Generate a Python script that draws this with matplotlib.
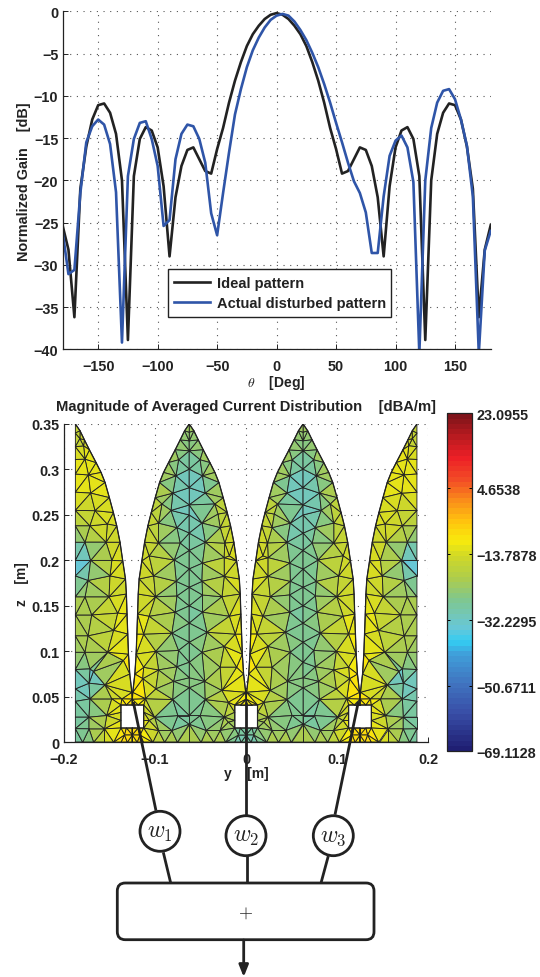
import matplotlib
matplotlib.use('Agg')
import matplotlib.pyplot as plt
import matplotlib.tri as mtri
import numpy as np
from matplotlib.colors import LinearSegmentedColormap
from matplotlib.patches import Circle, FancyBboxPatch
from matplotlib.path import Path

plt.rcParams['font.family'] = ['Liberation Sans', 'DejaVu Sans']
plt.rcParams['font.weight'] = 'bold'
plt.rcParams['axes.labelweight'] = 'bold'
plt.rcParams['mathtext.fontset'] = 'cm'

W, H = 540, 978

# gain patterns, one value every 5 degrees
theta = list(range(-180, 185, 5))
ideal = [-25.3, -28.2, -36.2, -21, -16, -12.8, -11.1, -10.9, -12, -14.5, -20, -38.9, -19.5, -15.1, -13.7,
         -14.1, -16.1, -20.7, -29, -22, -18.3, -16.4, -16.1, -17.5, -18.9, -19.2, -16.3, -13.8, -10.8, -8.2,
         -6, -4.1, -2.7, -1.7, -0.9, -0.4, -0.2, -0.4, -0.9, -1.7, -2.7, -4.1, -6, -8.2, -10.8, -13.8,
         -16.3, -19.2, -18.9, -17.5, -16.1, -16.4, -18.3, -22, -29, -20.7, -16.1, -14.1, -13.7, -15.1, -19.5,
         -38.9, -20, -14.5, -12, -10.9, -11.1, -12.8, -16, -21, -36.2, -28.2, -25.3]
disturbed = [-26, -31.1, -30.6, -21.5, -15.5, -13.6, -12.8, -13.4, -15.7, -21.4, -39.2, -19.5, -15.1, -13.2, -13,
             -15.1, -18.3, -25.4, -24.7, -17.5, -14.5, -13.4, -13.6, -15.1, -17.9, -23.9, -26.5, -21.5, -16.7,
             -12.2, -9.2, -6.6, -4.6, -3.1, -1.9, -1.0, -0.5, -0.3, -0.5, -1.2, -2.2, -3.4, -4.9, -6.6, -8.6,
             -10.8, -13.2, -15.5, -17.9, -20.1, -21.5, -23.8, -28.6, -28.6, -21.9, -17.1, -15.3, -14.7, -16.1,
             -20.2, -40.5, -20, -13.8, -10.8, -9.4, -9.2, -10.4, -12.8, -15.9, -21.9, -40.5, -28.3, -26]

# lobe outline in mm, half width against height
edge_z = [350, 342.5, 332.6, 321.6, 307.6, 296.7, 285.7, 269, 252.7, 238, 220, 199.5, 179.6, 163, 141,
          119, 97, 75, 55, 47.5, 41]
edge_w = [0, 5.1, 9.9, 15.4, 22.7, 28.2, 32.6, 37.3, 41.7, 45.4, 49, 52, 55, 56, 56.7, 57.5, 58.3,
          59.7, 62, 62.5, 62.5]
inner_edge_val = [-24, -24, -24, -23, -22, -20, -20, -19, -18, -17, -16, -16, -15, -15, -14, -12,
                  -12, -11, -10, -11, -12]
outer_edge_val = [-18, -17, -16, -14, -14, -14, -14, -15, -15, -16, -16, -15, -15, -14, -13, -12,
                  -11, -10, -10, -11, -12]

# mesh nodes of the inner lobe: offset from lobe centre [mm], height [mm], level [dBA/m]
inner_nodes = [
    (0, 341, -25), (0, 331.5, -26), (0, 320.5, -29), (0, 300.4, -33), (0, 280, -33), (0, 261, -33), (0, 250, -32),
    (0, 230, -31), (0, 211, -30), (0, 190.6, -29), (0, 170.5, -29), (0, 150, -30), (0, 131, -29), (0, 110, -28),
    (0, 88, -28), (0, 71, -27), (0, 60, -27), (0, 29.4, -29), (0, 20, -27),
    (-11.7, 310.6, -27), (12, 310.6, -27), (-14.6, 293, -30), (14.6, 293, -30), (-18, 274, -30), (17.6, 274, -32),
    (-20, 255, -30), (31.5, 251, -20), (-33.7, 241, -20), (-13.5, 236, -30), (14, 241, -31), (34, 236, -19),
    (-33.7, 219, -21), (-10, 219, -29), (17.6, 220, -29), (39, 219, -17), (-16.5, 200.5, -27), (14.6, 197, -27),
    (38.4, 203, -16), (-39, 183, -17), (-14.3, 177, -27), (14, 177, -26), (38.4, 182.5, -17),
    (-30, 262, -21), (28, 262, -22), (-44, 205, -16), (44, 205, -15),
    (-37, 160, -20), (-13.5, 161, -27), (14.6, 162, -27), (36, 160, -20), (-44, 138.5, -16), (-15.4, 143, -26),
    (14.6, 143, -28), (44, 138.5, -17), (-19, 120, -26), (19.4, 121, -26), (-50, 119, -13), (50.5, 119, -13),
    (-36.6, 100, -22), (-11.7, 101, -28), (14, 99, -26), (38.4, 105.5, -20), (-13.5, 83, -27), (34, 82.5, -21),
    (-33.7, 79.6, -21), (-50, 82.5, -12), (52, 82.5, -11), (-17, 67, -25), (17, 67, -25), (-51, 70, -11),
    (-36.6, 58.7, -20), (36, 57, -20), (-18, 47, -26), (17.6, 47, -26), (-48, 48, -13), (43, 44, -16),
    (-38, 27.6, -23), (-12.4, 29.4, -34), (12, 29.4, -28), (38.4, 27.6, -24), (-19, 13, -28), (18.7, 13, -27),
    (-33.7, 13, -22), (34, 13, -24), (-44, 24, -17), (43, 22, -20),
    (-57, 0, -10), (-50, 0, -10), (-40, 0, -15), (-27, 0, -20), (-13, 0, -20), (0, 0, -20), (13, 0, -20),
    (27, 0, -20), (40, 0, -22), (50, 0, -30), (57, 0, -32),
    (-54, 8, -10), (54, 8, -30), (-62.5, 0, -11), (62.5, 0, -28), (-62.5, 8, -10), (62.5, 8, -29),
    (-62.5, 15.7, -10), (-56, 15.7, -10), (-50, 15.7, -11), (-50, 24, -15), (-50, 33, -14), (-50, 41, -12),
    (-56, 41, -11), (62.5, 15.7, -30), (56, 15.7, -30), (50, 15.7, -28), (50, 24, -23), (50, 33, -20), (50, 41, -15),
    (56, 41, -12),
]

# mesh nodes of the outer half lobe: distance from the straight edge [mm], height [mm], level [dBA/m]
outer_nodes = [
    (0, 340, -20), (0, 325, -18), (0, 311, -15), (0, 295, -14), (0, 275, -15), (0, 255, -18), (0, 238, -22),
    (0, 220, -28), (0, 200, -40), (0, 183, -33), (0, 160, -23), (0, 140, -21), (0, 117, -22), (0, 99, -24),
    (0, 80, -26), (0, 58.7, -33), (0, 45, -31), (0, 27.6, -31), (0, 15, -30), (0, 0, -31),
    (5, 334, -18), (9, 326, -16), (10.6, 311.4, -13), (14.3, 294, -13), (16.8, 274, -14), (21.6, 254.7, -17),
    (16, 238, -19), (35, 240, -14), (33.7, 220, -18), (10.6, 220, -25), (16.8, 200, -33), (40, 200, -15),
    (14, 178, -28), (38, 183, -16), (10.6, 160, -24), (37, 160, -19), (18, 140, -23), (46.5, 142, -13),
    (14, 117, -22), (42, 123, -16), (35.5, 99, -19), (10.6, 99, -24), (16, 80.7, -28), (52.7, 90, -11),
    (19.8, 78, -38), (15, 65, -36), (32.6, 63, -24), (16, 47.7, -30), (40, 47.7, -14), (51, 47.7, -11),
    (15, 27.6, -28), (34.4, 29.4, -21), (32, 14.8, -17), (15, 14.8, -26),
    (8, 0, -28), (20, 0, -24), (32, 0, -17), (42, 0, -12), (50, 0, -10), (57, 0, -10), (62.5, 0, -11),
    (54, 8, -10), (62.5, 8, -10), (62.5, 15.7, -10), (56, 15.7, -10), (50, 15.7, -11), (50, 24, -12),
    (50, 33, -11), (50, 41, -11), (56, 41, -11),
]

# the labelled ticks of the colour bar do not sit where their values would put them
cbar_ticks = [23.0955, 2.7, -15.3, -33.3, -51.3, -69.1128]
cbar_labels = ['23.0955', '4.6538', '\u221213.7878', '\u221232.2295', '\u221250.6711', '\u221269.1128']
cmap_stops = [(0, '#1f1f73'), (0.105, '#384da6'), (0.194, '#4073bf'), (0.283, '#409ed9'), (0.322, '#33ccf2'),
              (0.362, '#66c7d9'), (0.40, '#73c7b8'), (0.45, '#80c78c'), (0.51, '#adcc4d'), (0.58, '#d1d926'),
              (0.623, '#f7eb0d'), (0.678, '#ffc70d'), (0.747, '#fa8c1a'), (0.806, '#f24d26'), (0.875, '#ed1f26'),
              (0.944, '#b31a1f'), (1, '#80141a')]
jetish = LinearSegmentedColormap.from_list('jetish', cmap_stops, N=64)
VMIN, VMAX = -69.1128, 23.0955
TICK_SIZE = 10.4
LABEL_SIZE = 10


def px_axes(fig, x0, y0, x1, y1):
    # y counted from the top of the picture
    return fig.add_axes([x0 / W, 1 - y1 / H, (x1 - x0) / W, (y1 - y0) / H])


def style_axes(ax):
    ax.spines['top'].set_visible(False)
    ax.spines['right'].set_visible(False)
    for s in ['left', 'bottom']:
        ax.spines[s].set_color('#222222')
        ax.spines[s].set_linewidth(0.9)
    ax.grid(True, linestyle=(0, (1, 5)), color='#555555', linewidth=0.8)
    ax.set_axisbelow(True)
    ax.tick_params(direction='in', length=3.5, width=0.7, color='#222222', labelcolor='#222222',
                   labelsize=TICK_SIZE, pad=3)
    ax.tick_params(axis='x', pad=7)


def draw_lobe(ax, centre, sign, half, nodes, edge_val):
    # half=True only uses the notch side of the outline
    off, zed, val = [], [], []
    for w, z, v in zip(edge_w, edge_z, edge_val):
        off.append(w)
        zed.append(z)
        val.append(v)
        if not half and w > 0:
            off.append(-w)
            zed.append(z)
            val.append(v)
    for o, z, v in nodes:
        off.append(o)
        zed.append(z)
        val.append(v)
    off = np.array(off, dtype=float)
    zed = np.array(zed, dtype=float)

    right = [(w, z) for w, z in zip(edge_w, edge_z)]
    slot_r = [(50, 41), (50, 15.7), (62.5, 15.7), (62.5, 0)]
    if half:
        outline = right + slot_r + [(0, 0)]
    else:
        left = [(-w, z) for w, z in zip(edge_w, edge_z)]
        slot_l = [(-62.5, 0), (-62.5, 15.7), (-50, 15.7), (-50, 41)]
        outline = right + slot_r + slot_l + left[::-1]
    outline = np.array(outline)

    tri = mtri.Triangulation((centre + sign * off) / 1000, zed / 1000)
    shape = Path(np.column_stack([(centre + sign * outline[:, 0]) / 1000, outline[:, 1] / 1000]))
    cx = tri.x[tri.triangles].mean(axis=1)
    cy = tri.y[tri.triangles].mean(axis=1)
    tri.set_mask(~shape.contains_points(np.column_stack([cx, cy])))
    pc = ax.tripcolor(tri, np.array(val, dtype=float), cmap=jetish, vmin=VMIN, vmax=VMAX, shading='flat',
                      edgecolors='#222222', linewidth=0.65)
    ax.plot((centre + sign * outline[:, 0]) / 1000, outline[:, 1] / 1000, color='#222222', lw=0.9)
    return pc


fig = plt.figure(figsize=(W / 100, H / 100), dpi=100)

# gain plot
ax1 = px_axes(fig, 62.5, 12.4, 490.7, 350.3)
ax1.plot(theta, ideal, color='#222222', lw=1.9, label='Ideal pattern')
ax1.plot(theta, disturbed, color='#2f55a8', lw=1.9, label='Actual disturbed pattern')
ax1.set_xlim(-180, 180)
ax1.set_ylim(-40, 0)
ax1.set_xticks([-150, -100, -50, 0, 50, 100, 150])
ax1.set_yticks([0, -5, -10, -15, -20, -25, -30, -35, -40])
style_axes(ax1)
ax1.set_xlabel(r'$\mathrm{\theta}$    [Deg]', fontsize=LABEL_SIZE, color='#222222', labelpad=0)
ax1.set_ylabel('Normalized Gain    [dB]', fontsize=LABEL_SIZE + 0.4, color='#222222', labelpad=2)
ax1.legend(loc='lower left', bbox_to_anchor=(0.2455, 0.0965, 0.5215, 0.14), mode='expand', fontsize=10.5,
           fancybox=False, framealpha=1, edgecolor='#222222', labelcolor='#222222', borderaxespad=0,
           handlelength=2.45, labelspacing=0.42, borderpad=0.45, handletextpad=0.5)
ax1.get_legend().get_frame().set_linewidth(1.0)

# current distribution
ax2 = px_axes(fig, 64, 425, 428.3, 743.3)
pc = None
for centre, sign in [(-62.5, 1), (62.5, -1)]:
    pc = draw_lobe(ax2, centre, sign, False, inner_nodes, inner_edge_val)
for centre, sign in [(-187.5, 1), (187.5, -1)]:
    pc = draw_lobe(ax2, centre, sign, True, outer_nodes, outer_edge_val)
ax2.set_xlim(-0.2, 0.2)
ax2.set_ylim(0, 0.35)
ax2.set_xticks([-0.2, -0.1, 0, 0.1, 0.2])
ax2.set_xticklabels(['\u22120.2', '\u22120.1', '0', '0.1', '0.2'])
ax2.set_yticks([0, 0.05, 0.1, 0.15, 0.2, 0.25, 0.3, 0.35])
ax2.set_yticklabels(['0', '0.05', '0.1', '0.15', '0.2', '0.25', '0.3', '0.35'])
style_axes(ax2)
ax2.set_xlabel('y    [m]', fontsize=LABEL_SIZE, color='#222222', labelpad=0)
ax2.set_ylabel('z    [m]', fontsize=LABEL_SIZE, color='#222222', labelpad=2)
ax2.set_title('Magnitude of Averaged Current Distribution    [dBA/m]', fontsize=10.6, color='#222222', pad=10,
              fontweight='bold')

cax = px_axes(fig, 447.3, 414.3, 472.3, 752.3)
cb = fig.colorbar(pc, cax=cax)
cb.set_ticks(cbar_ticks)
cb.set_ticklabels(cbar_labels)
cb.ax.tick_params(direction='in', length=2.5, width=0.7, labelsize=TICK_SIZE, labelcolor='#222222', pad=3, left=True)
cb.outline.set_edgecolor('#222222')
cb.outline.set_linewidth(0.9)

# beamforming diagram drawn over both, in picture pixels
ov = fig.add_axes([0, 0, 1, 1], zorder=5)
ov.set_xlim(0, W)
ov.set_ylim(H, 0)
ov.axis('off')
ov.patch.set_alpha(0)
INK = '#222222'
feeds = [((133.3, 703), (156, 811.7)), ((246.3, 703), (246.3, 816)), ((358.3, 703), (335, 815.7))]
stubs = [((163.3, 853.3), (170.7, 884)), ((246.7, 857), (246.7, 884)), ((328.3, 857), (321, 884))]
weights = [(160, 832.3, '$w_1$'), (246, 836.7, '$w_2$'), (333.3, 836.7, '$w_3$')]
for a, b in feeds + stubs:
    ov.plot([a[0], b[0]], [a[1], b[1]], color=INK, lw=2.0, solid_capstyle='butt')
for x, y, lab in weights:
    ov.add_patch(Circle((x, y), 20, facecolor='white', edgecolor=INK, lw=2.0))
    ov.text(x, y, lab, fontsize=17, ha='center', va='center', color=INK)
ov.add_patch(FancyBboxPatch((125.3, 892), 240.7, 40.7, boxstyle='round,pad=8,rounding_size=8', facecolor='white',
                            edgecolor=INK, lw=2.0))
ov.text(245.5, 913, '$+$', fontsize=13, ha='center', va='center', color=INK)
ov.annotate('', xy=(243.7, 978), xytext=(243.7, 941),
            arrowprops=dict(arrowstyle='-|>,head_width=0.28,head_length=0.7', color=INK, lw=2.0,
                            shrinkA=0, shrinkB=0))

fig.savefig('out.png', dpi=100)
